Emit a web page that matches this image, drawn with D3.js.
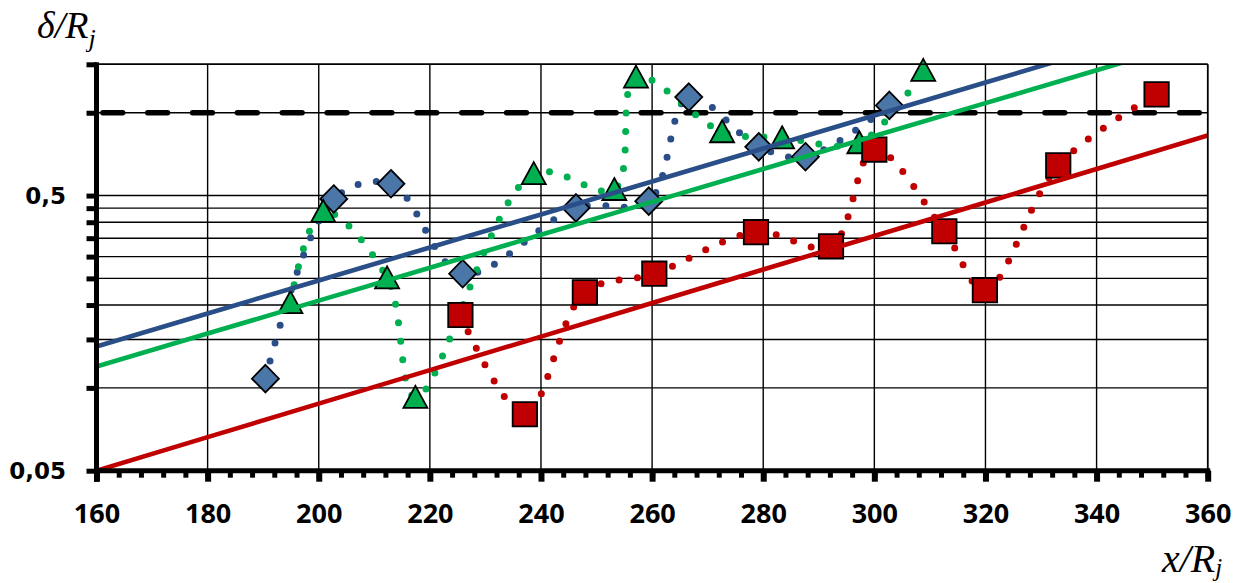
<!DOCTYPE html>
<html><head><meta charset="utf-8">
<script src="https://cdn.jsdelivr.net/npm/d3@7"></script>
<style>body{margin:0;background:#fff}</style>
</head><body>
<svg id="chart" width="1250" height="583"></svg>
<script>
// ---- data ----
const xTickValues = [160,180,200,220,240,260,280,300,320,340,360];
const xMinorValues = d3.range(160, 361, 4);
const yTickValues = [0.05, 0.5];
const yTickLabels = ["0,05", "0,5"];
const yGridValues = [0.1,0.15,0.2,0.25,0.3,0.35,0.4,0.45,0.5,1.0,1.5];
const refLevel = [1.0];

const blueX = [190.4, 202.7, 213.0, 225.9, 246.3, 259.4, 266.6, 279.2, 287.6, 302.7];
const blueY = [0.108, 0.486, 0.552, 0.260, 0.451, 0.477, 1.14, 0.752, 0.692, 1.063];

const greenX = [194.9, 200.8, 212.3, 217.4, 238.7, 253.2, 257.1, 272.6, 283.4, 297.3, 308.8];
const greenY = [0.204, 0.438, 0.251, 0.0924, 0.601, 0.526, 1.348, 0.853, 0.811, 0.778, 1.425];

const redX = [225.5, 237.1, 247.9, 260.4, 278.7, 292.2, 300.0, 312.6, 319.9, 333.1, 350.8];
const redY = [0.184, 0.0802, 0.2224, 0.260, 0.368, 0.327, 0.735, 0.371, 0.2265, 0.644, 1.166];

// exponential trend lines: [value at x=160, growth rate]
const blueTrend = [0.1414, 0.013811];
const greenTrend = [0.1196, 0.013775];
const redTrend = [0.05, 0.01403];

// ---- styles ----
const BLUE_FILL = "#4A76A8", BLUE_LINE = "#2A4E87";
const GREEN = "#00B050", RED = "#C00000";

const svg = d3.select("#chart");
const L = 96.5, R = 1207.7, T = 64.3, B = 470.7;
const x = d3.scaleLinear().domain([160, 360]).range([L, R]);
const y = d3.scaleLog().domain([0.05, 1.5]).range([B, T]);

svg.append("defs").append("clipPath").attr("id", "plotclip")
  .append("rect").attr("x", L).attr("y", T).attr("width", R - L).attr("height", B - T);

// grid
const grid = svg.append("g");
grid.selectAll("line.h").data(yGridValues).join("line")
  .attr("x1", L).attr("x2", R).attr("y1", d => y(d)).attr("y2", d => y(d))
  .attr("stroke", "#000").attr("stroke-width", 1.4);
grid.selectAll("line.v").data(xTickValues.slice(1)).join("line")
  .attr("y1", T).attr("y2", B).attr("x1", d => x(d)).attr("x2", d => x(d))
  .attr("stroke", "#000").attr("stroke-width", 1.4);

// reference dashed line
svg.append("line")
  .attr("x1", x(160)).attr("x2", x(360)).attr("y1", y(refLevel[0])).attr("y2", y(refLevel[0]))
  .attr("stroke", "#000").attr("stroke-width", 5.5)
  .attr("stroke-linecap", "round")
  .attr("stroke-dasharray", "19.8 25.06").attr("stroke-dashoffset", 38.5);

const series = [
  {xs: blueX, ys: blueY, line: BLUE_LINE, fill: BLUE_FILL, shape: "diamond", trend: blueTrend},
  {xs: greenX, ys: greenY, line: GREEN, fill: GREEN, shape: "triangle", trend: greenTrend},
  {xs: redX, ys: redY, line: RED, fill: RED, shape: "square", trend: redTrend}
];

const smooth = d3.line().x(d => x(d[0])).y(d => y(d[1])).curve(d3.curveCatmullRom.alpha(0.5));

// dotted smoothed lines
series.forEach(s => {
  const pts = s.xs.map((v, i) => [v, s.ys[i]]);
  svg.append("path").attr("d", smooth(pts))
    .attr("fill", "none").attr("stroke", s.line).attr("stroke-width", 7)
    .attr("stroke-linecap", "round").attr("stroke-dasharray", "0 18.5");
});

const shapes = {
  diamond: "M0,-13.8L13.5,0L0,13.8L-13.5,0Z",
  triangle: "M0,-11.5L12,10.5L-12,10.5Z",
  square: "M-12.2,-12.2H12.2V12.2H-12.2Z"
};

// markers
series.forEach(s => {
  const pts = s.xs.map((v, i) => [v, s.ys[i]]);
  svg.append("g").selectAll("path").data(pts).join("path")
    .attr("d", shapes[s.shape])
    .attr("transform", d => `translate(${x(d[0])},${y(d[1])})`)
    .attr("fill", s.fill).attr("stroke", "#000").attr("stroke-width", 1.8)
    .attr("stroke-linejoin", "miter");
});

// trend lines
const trendLine = d3.line().x(d => x(d[0])).y(d => y(d[1]));
const trendG = svg.append("g").attr("clip-path", "url(#plotclip)");
series.forEach(s => {
  const pts = xTickValues.map(v => [v, s.trend[0] * Math.exp(s.trend[1] * (v - 160))]);
  trendG.append("path").attr("d", trendLine(pts))
    .attr("fill", "none").attr("stroke", s.line).attr("stroke-width", 4.6);
});

// borders top/right
svg.append("line").attr("x1", L).attr("x2", R).attr("y1", T).attr("y2", T).attr("stroke", "#000").attr("stroke-width", 1.6);
svg.append("line").attr("x1", R).attr("x2", R).attr("y1", T).attr("y2", B).attr("stroke", "#000").attr("stroke-width", 1.6);

// x axis: minor ticks
const xMinor = svg.append("g").attr("transform", `translate(0,${B})`)
  .call(d3.axisBottom(x).tickValues(xMinorValues).tickSize(7).tickSizeOuter(0).tickFormat(""));
xMinor.select(".domain").remove();
xMinor.selectAll(".tick line").attr("stroke", "#000").attr("stroke-width", 5);

// x axis: major
const xAxis = svg.append("g").attr("transform", `translate(0,${B})`)
  .call(d3.axisBottom(x).tickValues(xTickValues).tickSize(11).tickSizeOuter(0).tickFormat(d => d));
xAxis.select(".domain").attr("stroke", "#000").attr("stroke-width", 5)
  .attr("d", `M${L - 2.5},0H${R + 2.5}`);
xAxis.selectAll(".tick line").attr("stroke", "#000").attr("stroke-width", 6);
xAxis.selectAll(".tick text").attr("y", 52.6).attr("dy", 0)
  .attr("font-family", "'Open Sans'").attr("font-weight", "bold").attr("font-size", 27).attr("fill", "#000");

// y axis
const yAxis = svg.append("g").attr("transform", `translate(${L},0)`)
  .call(d3.axisLeft(y).tickValues([0.05].concat(yGridValues)).tickSize(10).tickSizeOuter(0).tickPadding(20.5)
    .tickFormat(d => { const i = yTickValues.indexOf(d); return i >= 0 ? yTickLabels[i] : ""; }));
yAxis.select(".domain").attr("stroke", "#000").attr("stroke-width", 5)
  .attr("d", `M0,${B + 11}V${T - 2}`);
yAxis.selectAll(".tick line").attr("stroke", "#000").attr("stroke-width", 5);
yAxis.selectAll(".tick text").attr("dy", "0.36em")
  .attr("font-family", "'DejaVu Sans'").attr("font-weight", "bold").attr("font-size", 23).attr("fill", "#000");

// axis titles
const yt = svg.append("text").attr("x", 37).attr("y", 38)
  .attr("font-family", "'Liberation Serif'").attr("font-style", "italic").attr("font-size", 38).attr("fill", "#000");
yt.append("tspan").text("δ/R");
yt.append("tspan").attr("dy", 9).attr("font-size", 26).text("j");

const xt = svg.append("text").attr("x", 1162).attr("y", 572)
  .attr("font-family", "'Liberation Serif'").attr("font-style", "italic").attr("font-size", 40).attr("fill", "#000");
xt.append("tspan").text("x/R");
xt.append("tspan").attr("dy", 4).attr("font-size", 25).text("j");
</script>
</body></html>
